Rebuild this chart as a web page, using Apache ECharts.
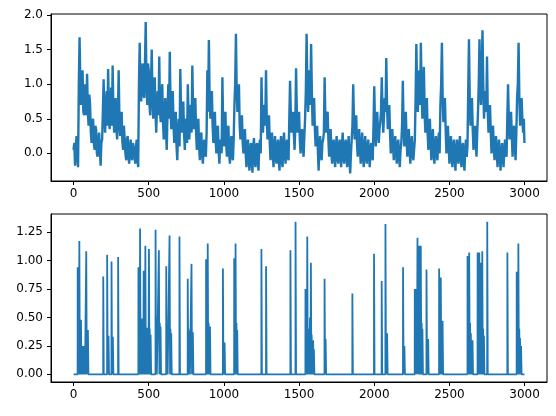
<!DOCTYPE html>
<html>
<head>
<meta charset="utf-8">
<script src="https://cdn.jsdelivr.net/npm/echarts@6/dist/echarts.min.js"></script>
<style>html,body{margin:0;padding:0;background:#fff}#c{width:556px;height:416px}</style>
</head>
<body>
<div id="c"></div>
<script>
// Top panel: signal read at x = 0,10,...,2990 (topValues) and x = 5,15,...,2995 (topMid)
var topStep = 10;
var topValues = [
 0.05,-0.18,0.25,-0.2,1.68,0.7,1.2,0.55,0.95,1.15,
 0.4,0.7,0.15,0.5,0.05,0.35,-0.05,0.3,-0.18,0.2,
 1.07,0.3,0.9,1.22,0.35,0.95,1.27,0.3,0.8,0.2,
 1.2,0.25,0.6,0.05,0.4,-0.1,0.25,-0.15,0.2,-0.1,
 0.15,-0.15,0.2,-0.2,1.6,0.75,1.3,0.8,1.9,0.7,
 1.2,0.55,1.5,0.5,1.1,0.3,0.9,1.4,0.45,1.0,
 0.2,0.8,0.05,1.0,1.47,0.35,0.9,0.15,0.6,-0.1,
 0.5,1.22,0.3,0.75,0.05,0.5,1.0,0.2,0.7,1.27,
 0.35,0.8,0.05,0.5,-0.1,0.3,-0.15,0.2,-0.05,1.2,
 1.64,0.5,0.9,0.15,0.6,0.0,0.4,-0.15,0.2,1.1,
 0.1,0.6,-0.05,0.4,-0.15,0.25,-0.1,0.7,1.73,0.6,
 1.0,0.2,0.55,0.0,0.35,-0.2,0.2,-0.25,0.15,-0.28,
 0.22,-0.2,0.15,-0.25,0.2,1.1,0.3,0.7,1.2,0.2,
 0.55,-0.1,0.3,-0.2,0.25,-0.15,0.2,-0.25,0.25,-0.2,
 0.3,-0.15,0.2,-0.1,1.05,0.3,0.6,0.05,1.23,0.3,
 0.6,0.0,0.35,-0.05,0.5,1.73,0.6,1.2,1.58,0.4,
 0.8,0.1,0.4,-0.25,0.25,-0.1,0.2,1.1,0.3,0.6,
 -0.05,0.35,-0.15,0.2,-0.2,0.25,-0.15,0.2,-0.2,0.3,
 -0.15,0.2,-0.2,0.25,-0.29,0.2,1.0,0.2,0.55,-0.05,
 0.35,-0.15,0.3,-0.2,0.25,-0.15,0.2,-0.2,0.15,-0.1,
 0.97,0.1,0.6,0.15,0.45,1.1,0.3,0.8,1.38,0.35,
 0.7,0.0,0.35,-0.1,0.25,-0.15,0.2,-0.2,0.15,1.05,
 0.1,0.6,-0.05,0.35,-0.15,0.25,-0.1,0.2,1.58,0.6,
 1.2,1.6,0.5,1.25,0.3,0.8,0.05,0.5,-0.1,0.35,
 -0.15,0.25,-0.1,0.3,0.7,1.6,0.45,0.8,0.0,0.4,
 -0.15,0.25,-0.2,0.2,-0.25,0.2,-0.15,0.25,-0.2,0.15,
 -0.25,0.2,0.1,1.65,0.4,0.8,0.05,0.4,-0.05,0.6,
 1.65,0.7,1.78,0.5,0.9,1.4,0.3,0.7,0.0,0.4,
 -0.1,0.25,-0.2,0.2,-0.25,0.15,-0.2,0.2,-0.05,1.0,
 0.2,0.6,-0.05,0.4,-0.1,0.8,1.6,0.4,0.8,0.3
];
var topMid = [
 0.15,0.1,-0.05,1.0,1.0,1.05,0.6,1.0,0.55,0.6,
 0.85,0.3,0.45,0.15,0.4,0.0,0.2,0.05,0.15,0.6,
 0.5,0.7,0.4,0.6,0.7,0.4,0.6,0.65,0.35,0.5,
 0.5,0.55,0.15,0.4,0.0,0.2,-0.05,0.1,-0.05,0.15,
 0.0,0.1,-0.1,1.0,0.9,1.2,0.85,1.3,1.0,1.3,
 0.7,1.0,0.8,0.9,0.6,0.7,0.55,0.6,0.8,0.45,
 0.6,0.3,0.6,0.5,0.7,0.75,0.4,0.5,0.1,0.35,
 0.1,0.6,0.6,0.3,0.45,0.15,0.5,0.55,0.3,0.6,
 0.6,0.3,0.4,0.1,0.25,0.0,0.1,0.0,0.3,0.6,
 0.8,0.8,0.4,0.5,0.2,0.35,0.05,0.2,0.0,0.4,
 0.4,0.15,0.3,0.0,0.15,-0.05,0.2,1.0,0.9,0.9,
 0.4,0.45,0.15,0.3,0.0,0.1,-0.1,0.05,-0.1,0.1,
 -0.1,0.1,-0.1,0.1,0.0,0.5,0.6,0.4,0.5,0.45,
 0.15,0.2,0.0,0.1,-0.05,0.1,-0.1,0.1,-0.1,0.15,
 0.0,0.1,-0.05,0.5,0.6,0.5,0.3,0.4,0.6,0.5,
 0.2,0.3,0.1,0.25,0.9,1.0,0.9,0.7,0.9,0.7,
 0.35,0.3,0.05,0.1,0.0,0.15,0.3,0.5,0.55,0.2,
 0.2,0.0,0.1,-0.05,0.1,-0.05,0.1,-0.05,0.1,-0.05,
 0.1,-0.05,0.1,-0.1,0.0,0.4,0.5,0.45,0.15,0.2,
 0.05,0.1,-0.05,0.1,-0.05,0.1,-0.05,0.05,0.0,0.4,
 0.4,0.4,0.3,0.35,0.6,0.6,0.55,0.6,0.7,0.55,
 0.3,0.2,0.1,0.15,0.0,0.1,-0.05,0.05,0.4,0.4,
 0.4,0.2,0.2,0.05,0.1,0.0,0.05,0.8,0.9,1.0,
 0.7,0.9,0.8,0.6,0.55,0.3,0.35,0.15,0.2,0.0,
 0.1,0.0,0.15,0.0,1.0,0.8,0.7,0.35,0.3,0.1,
 0.1,-0.05,0.1,-0.05,0.05,-0.05,0.1,-0.05,0.05,-0.1,
 0.05,-0.05,0.9,0.8,0.7,0.35,0.3,0.15,0.3,1.0,
 0.9,1.2,1.0,0.8,0.6,0.6,0.5,0.3,0.3,0.1,
 0.15,0.0,0.05,-0.05,0.0,-0.05,0.05,0.0,0.5,0.5,
 0.5,0.25,0.3,0.1,0.3,1.0,0.8,0.7,0.5,0.5
];
var topLast = [2999, 0.15];

// Bottom panel: baseline value and spikes (position, height)
var bottomBase = 0;
var spikeX = [29,34,40,45,51,56,62,68,74,86,97,
 199,225,234,254,263,298,
 433,438,444,449,455,462,468,474,479,485,490,496,503,508,514,547,552,569,575,580,618,624,640,646,651,706,761,766,772,786,795,
 883,889,894,900,909,995,1006,1070,1074,1079,1085,1090,1251,1282,
 1444,1478,1544,1550,1556,1562,1567,1574,1580,1585,1589,1595,1600,1671,1678,1856,
 2000,2051,2076,2087,2193,2202,2271,2277,2282,2289,2295,2300,2306,2311,2317,2322,2349,2360,2433,2440,2444,2450,2456,
 2622,2628,2633,2639,2644,2655,2689,2695,2700,2709,2715,2720,2726,2731,2753,2887,2949,2955,2960,2966,2971,2978];
var spikeY = [0.94,0.6,1.17,0.45,0.48,0.25,0.25,0.25,0.25,1.08,0.39,
 0.86,1.05,0.34,0.99,0.33,1.03,
 0.94,0.6,1.28,0.45,0.49,0.4,0.91,0.45,1.13,0.4,0.41,0.38,1.1,0.4,0.35,1.27,0.5,1.09,0.45,0.42,0.95,0.4,1.22,0.4,0.36,1.21,0.84,0.4,0.38,0.97,0.37,
 1.01,0.5,1.15,0.45,0.42,0.93,0.28,1.02,0.5,1.15,0.45,0.39,1.1,0.95,
 1.09,1.34,0.75,0.4,1.21,0.4,0.35,0.5,0.98,0.35,0.25,0.3,0.22,0.84,0.31,0.71,
 1.06,0.82,1.32,0.36,0.94,0.25,0.75,0.5,0.75,1.2,0.6,1.13,0.6,1.13,0.45,0.4,0.92,0.31,0.93,0.5,0.85,0.4,0.47,
 1.04,0.5,1.07,0.45,0.36,0.3,1.07,0.5,1.07,0.98,0.5,1.08,0.4,0.34,1.34,1.07,0.9,0.5,1.15,0.4,0.32,0.25];

var xTicks = [0,500,1000,1500,2000,2500,3000];
var yTopTicks = [0,0.5,1.0,1.5,2.0];
var yBotTicks = [0,0.25,0.5,0.75,1.0,1.25];

var topData = [];
for (var k=0;k<topValues.length;k++){
  topData.push([k*topStep, topValues[k]]);
  topData.push([k*topStep+topStep/2, topMid[k]]);
}
topData.push(topLast);

var botData = [[0,bottomBase]];
for (var i=0;i<spikeX.length;i++){
  botData.push([spikeX[i]-2,bottomBase]);
  botData.push([spikeX[i]-1.5,spikeY[i]]);
  botData.push([spikeX[i]+1.5,spikeY[i]]);
  botData.push([spikeX[i]+2,bottomBase]);
}
botData.push([2999,bottomBase]);

var font = 'DejaVu Sans';
function xAxis(gi){
  return {type:'value', gridIndex:gi, min:-150, max:3149,
    axisLine:{show:true, onZero:false, lineStyle:{color:'#000', width:1}},
    axisTick:{show:true, length:4, customValues:xTicks, lineStyle:{color:'#000'}},
    axisLabel:{customValues:xTicks, color:'#000', fontFamily:font, fontSize:12, margin:7,
      formatter:function(v){return String(Math.round(v));}},
    splitLine:{show:false}};
}
function yAxis(gi,min,max,ticks,dec){
  return {type:'value', gridIndex:gi, min:min, max:max,
    axisLine:{show:true, onZero:false, lineStyle:{color:'#000', width:1}},
    axisTick:{show:true, length:4, customValues:ticks, lineStyle:{color:'#000'}},
    axisLabel:{customValues:ticks, color:'#000', fontFamily:font, fontSize:12, margin:8,
      formatter:function(v){return v.toFixed(dec);}},
    splitLine:{show:false}};
}

var chart = echarts.init(document.getElementById('c'), null, {renderer:'canvas'});
chart.setOption({
  animation:false,
  grid:[
    {left:51, right:9, top:14, height:167, show:true, borderColor:'#000', borderWidth:1, backgroundColor:'transparent'},
    {left:51, right:9, top:214, height:168, show:true, borderColor:'#000', borderWidth:1, backgroundColor:'transparent'}
  ],
  xAxis:[xAxis(0), xAxis(1)],
  yAxis:[yAxis(0,-0.40,2.015,yTopTicks,1), yAxis(1,-0.067,1.408,yBotTicks,2)],
  series:[
    {type:'line', xAxisIndex:0, yAxisIndex:0, data:topData, showSymbol:false, symbol:'none',
     lineStyle:{color:'#1f77b4', width:2.4}, clip:true},
    {type:'line', xAxisIndex:1, yAxisIndex:1, data:botData, showSymbol:false, symbol:'none',
     lineStyle:{color:'#1f77b4', width:1.8}, clip:true}
  ]
});
</script>
</body>
</html>
